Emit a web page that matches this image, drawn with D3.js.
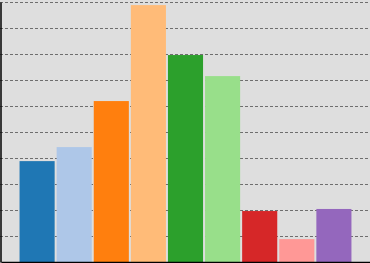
<!DOCTYPE html>
<html>
<head>
<meta charset="utf-8">
<script src="https://cdn.jsdelivr.net/npm/d3@7"></script>
<style>
  body { margin: 0; background: #fff; }
  svg { display: block; }
</style>
</head>
<body>
<svg width="370" height="263"></svg>
<script>
// bar data
var categories = ["a", "b", "c", "d", "e", "f", "g", "h", "i"];
var values = [3.88, 4.42, 6.19, 9.88, 7.96, 7.15, 1.96, 0.88, 2.04];
var colors = ["#1f77b4", "#aec7e8", "#ff7f0e", "#ffbb78", "#2ca02c", "#98df8a", "#d62728", "#ff9896", "#9467bd"];
var gridTicks = [1, 2, 3, 4, 5, 6, 7, 8, 9, 10];

var svg = d3.select("svg"),
    width = +svg.attr("width"),
    height = +svg.attr("height");

var data = categories.map(function(c, i) { return {cat: c, value: values[i], color: colors[i]}; });

var x = d3.scaleBand()
    .domain(categories)
    .range([1, width])
    .paddingInner(0.054)
    .paddingOuter(0.5);

var y = d3.scaleLinear()
    .domain([0, 10])
    .range([262, 2]);

// background
svg.append("rect")
    .attr("width", width)
    .attr("height", height)
    .attr("fill", "#dedede");

// dashed grid
svg.append("g")
    .attr("class", "grid")
    .selectAll("line")
    .data(gridTicks)
    .enter().append("line")
      .attr("x1", 0)
      .attr("x2", width)
      .attr("y1", function(d) { return Math.round(y(d)) + 0.5; })
      .attr("y2", function(d) { return Math.round(y(d)) + 0.5; })
      .attr("stroke", "#6e6e6e")
      .attr("stroke-width", 1.2)
      .attr("stroke-dasharray", "3,2");

// bars
svg.append("g")
    .selectAll("rect")
    .data(data)
    .enter().append("rect")
      .attr("x", function(d) { return x(d.cat); })
      .attr("y", function(d) { return y(d.value); })
      .attr("width", x.bandwidth())
      .attr("height", function(d) { return y(0) - y(d.value); })
      .attr("fill", function(d) { return d.color; });

// axes lines only, no labels
var yAxis = svg.append("g")
    .attr("transform", "translate(0.5,0)")
    .call(d3.axisLeft(y).tickValues([]).tickSizeOuter(0));
yAxis.select(".domain").attr("stroke", "#000").attr("stroke-width", 1.5);

var xAxis = svg.append("g")
    .attr("transform", "translate(0," + y(0) + ")")
    .call(d3.axisBottom(x).tickValues([]).tickSizeOuter(0));
xAxis.select(".domain").attr("stroke", "#000").attr("stroke-width", 1.5);
</script>
</body>
</html>
